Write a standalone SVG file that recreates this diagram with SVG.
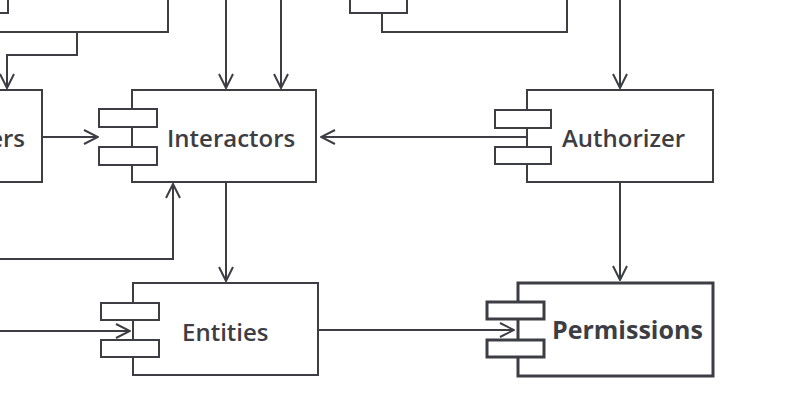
<svg xmlns="http://www.w3.org/2000/svg" width="810" height="412" viewBox="0 0 810 412">
<style>
.box{fill:#fff;stroke:#3d3e44;stroke-width:2}
.bold .box{stroke-width:3}
.lbl{font-family:"Open Sans","Noto Sans",sans-serif;font-size:24px;font-weight:600;fill:#3d3e44}
.bold .lbl{font-weight:bold;font-size:25px}
.edge{fill:none;stroke:#3d3e44;stroke-width:2}
</style>
<defs>
<marker id="arr" viewBox="0 0 16 16" refX="15" refY="8" markerWidth="16" markerHeight="16" markerUnits="userSpaceOnUse" orient="auto">
<path d="M1,1 L15,8 L1,15" fill="none" stroke="#3d3e44" stroke-width="2"/>
</marker>
</defs>
<rect width="810" height="412" fill="#fff"/>
<g id="connectors">
<path class="edge" d="M77,32 V55 H7 V88" marker-end="url(#arr)"/>
<path class="edge" d="M226,0 V88" marker-end="url(#arr)"/>
<path class="edge" d="M281,0 V88" marker-end="url(#arr)"/>
<path class="edge" d="M620,0 V88" marker-end="url(#arr)"/>
<path class="edge" d="M42,137 H98" marker-end="url(#arr)"/>
<path class="edge" d="M527,137 H321" marker-end="url(#arr)"/>
<path class="edge" d="M0,259 H173 V184" marker-end="url(#arr)"/>
<path class="edge" d="M226,182 V281" marker-end="url(#arr)"/>
<path class="edge" d="M620,182 V280" marker-end="url(#arr)"/>
<path class="edge" d="M0,331 H130" marker-end="url(#arr)"/>
<path class="edge" d="M318,330 H514" marker-end="url(#arr)"/>
</g>
<g id="topleft">
<rect class="box" x="-18" y="-60" width="186" height="92"/>
<rect class="box" x="-50" y="-5" width="58" height="18"/>
</g>
<g id="topright">
<rect class="box" x="382" y="-60" width="185" height="92"/>
<rect class="box" x="350" y="-5" width="57" height="18"/>
</g>
<g id="controllers">
<rect class="box" x="-143" y="90" width="185" height="92"/>
<text class="lbl" x="25" y="147" text-anchor="end">ers</text>
</g>
<g id="interactors">
<rect class="box" x="132" y="90" width="184" height="92"/>
<rect class="box" x="99" y="109" width="58" height="18"/>
<rect class="box" x="99" y="147" width="58" height="18"/>
<text class="lbl" x="167" y="147">Interactors</text>
</g>
<g id="authorizer">
<rect class="box" x="527" y="90" width="186" height="92"/>
<rect class="box" x="495" y="110" width="56" height="18"/>
<rect class="box" x="495" y="147" width="56" height="17"/>
<text class="lbl" x="562" y="147">Authorizer</text>
</g>
<g id="entities">
<rect class="box" x="133" y="283" width="185" height="92"/>
<rect class="box" x="101" y="303" width="58" height="17"/>
<rect class="box" x="101" y="340" width="58" height="17"/>
<text class="lbl" x="182" y="341">Entities</text>
</g>
<g id="permissions" class="bold">
<rect class="box" x="518" y="283" width="195" height="93"/>
<rect class="box" x="487" y="302" width="57" height="17"/>
<rect class="box" x="487" y="340" width="57" height="17"/>
<text class="lbl" x="552" y="339">Permissions</text>
</g>
</svg>
